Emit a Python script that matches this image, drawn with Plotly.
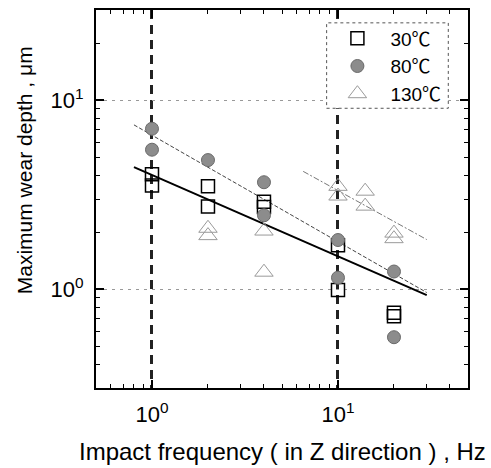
import math
import plotly.graph_objects as go

# ---- data ----
x_30 = [1, 1, 2, 2, 4, 4, 10, 10, 20, 20]
y_30 = [4.06, 3.54, 3.50, 2.74, 2.90, 2.72, 1.71, 0.99, 0.75, 0.72]

x_80 = [1, 1, 2, 4, 4, 10, 10, 20, 20]
y_80 = [7.06, 5.47, 4.82, 3.68, 2.46, 1.82, 1.15, 1.24, 0.557]

x_130 = [2, 2, 4, 4, 10, 10, 14, 14, 20, 20]
y_130 = [2.10, 1.92, 2.03, 1.23, 3.50, 3.11, 3.30, 2.75, 1.98, 1.85]

fit_x_30 = [0.8, 30]
fit_y_30 = [4.42, 0.93]
fit_x_80 = [0.8, 30]
fit_y_80 = [7.4, 0.96]
fit_x_130 = [6.5, 30]
fit_y_130 = [4.2, 1.83]

series_names = ["30℃", "80℃", "130℃"]
x_tickvals = [1, 10]
x_ticktext = ["10<sup>0</sup>", "10<sup>1</sup>"]
y_tickvals = [1, 10]
y_ticktext = ["10<sup>0</sup>", "10<sup>1</sup>"]
x_minor = [0.5, 0.6, 0.7, 0.8, 0.9, 2, 3, 4, 5, 6, 7, 8, 9, 20, 30, 40, 50]
y_minor = [0.3, 0.4, 0.5, 0.6, 0.7, 0.8, 0.9, 2, 3, 4, 5, 6, 7, 8, 9, 20, 30]

x_title = "Impact frequency ( in Z direction ) , Hz"
y_title = "Maximum wear depth , μm"

FONT = "Liberation Sans, Arial, Noto Sans CJK JP, sans-serif"
CJK = "Noto Sans CJK JP"


def legend_label(name):
    # degree-Celsius sign drawn full-width, as in the reference
    return name[:-1] + '<span style="font-family:' + CJK + '">' + name[-1] + '</span>'


fig = go.Figure()

# fit lines
fig.add_trace(go.Scatter(x=fit_x_30, y=fit_y_30, mode="lines",
                         line=dict(color="black", width=2), showlegend=False))
fig.add_trace(go.Scatter(x=fit_x_80, y=fit_y_80, mode="lines",
                         line=dict(color="#444444", width=1, dash="4px,2px"), showlegend=False))
fig.add_trace(go.Scatter(x=fit_x_130, y=fit_y_130, mode="lines",
                         line=dict(color="#777777", width=1, dash="6px,2px,2px,2px"), showlegend=False))

# markers
fig.add_trace(go.Scatter(x=x_30, y=y_30, mode="markers", name=legend_label(series_names[0]),
                         marker=dict(symbol="square-open", size=13, color="black",
                                     line=dict(width=1.5, color="black"))))
fig.add_trace(go.Scatter(x=x_80, y=y_80, mode="markers", name=legend_label(series_names[1]),
                         marker=dict(symbol="circle", size=13, color="#8c8c8c",
                                     line=dict(width=1, color="#6a6a6a"))))
fig.add_trace(go.Scatter(x=x_130, y=y_130, mode="markers", name=legend_label(series_names[2]),
                         marker=dict(symbol="triangle-up-open", size=16, color="#9a9a9a",
                                     line=dict(width=1, color="#9a9a9a"))))

axis_common = dict(
    type="log", showline=True, linecolor="black", linewidth=2, mirror="allticks",
    ticks="inside", ticklen=8, tickwidth=1.5, tickcolor="black",
    tickfont=dict(family=FONT, size=22, color="black"),
    ticklabelstandoff=6, zeroline=False, automargin=False,
)

fig.update_xaxes(
    **axis_common,
    range=[math.log10(0.5), math.log10(50)],
    tickmode="array", tickvals=x_tickvals, ticktext=x_ticktext,
    showgrid=True, gridcolor="#222222", gridwidth=2.5, griddash="9px,6px",
    minor=dict(tickmode="array", tickvals=x_minor, ticks="inside", ticklen=4,
               tickwidth=1, tickcolor="black", showgrid=False),
)
fig.update_yaxes(
    **axis_common,
    range=[math.log10(0.3), math.log10(30)],
    tickmode="array", tickvals=y_tickvals, ticktext=y_ticktext,
    showgrid=True, gridcolor="#999999", gridwidth=1, griddash="3px,5px",
    minor=dict(tickmode="array", tickvals=y_minor, ticks="inside", ticklen=4,
               tickwidth=1, tickcolor="black", showgrid=False),
)

# legend frame (dotted)
fig.add_shape(type="rect", xref="paper", yref="paper",
              x0=0.62, x1=0.947, y0=0.74, y1=0.966,
              line=dict(color="#555555", width=1, dash="dot"),
              fillcolor="white", layer="above")

fig.add_annotation(text=x_title, xref="paper", yref="paper", x=0.5, y=-0.168,
                   xanchor="center", yanchor="middle", showarrow=False,
                   font=dict(family=FONT, size=24, color="black"))
fig.add_annotation(text=y_title, xref="paper", yref="paper", x=-0.19, y=0.577,
                   xanchor="center", yanchor="middle", showarrow=False, textangle=-90,
                   font=dict(family=FONT, size=21, color="black"))

fig.update_layout(
    width=491, height=468,
    margin=dict(l=96, r=23, t=10, b=80, autoexpand=False),
    paper_bgcolor="white", plot_bgcolor="white",
    showlegend=True,
    legend=dict(x=0.614, y=0.975, xanchor="left", yanchor="top",
                bgcolor="rgba(0,0,0,0)", borderwidth=0,
                font=dict(family=FONT, size=19, color="black"),
                itemwidth=56, tracegroupgap=0),
    font=dict(family=FONT, color="black"),
)

fig.write_html("out.html", config={"displayModeBar": False},
               post_script="document.body.style.margin='0';document.body.style.padding='0';")
